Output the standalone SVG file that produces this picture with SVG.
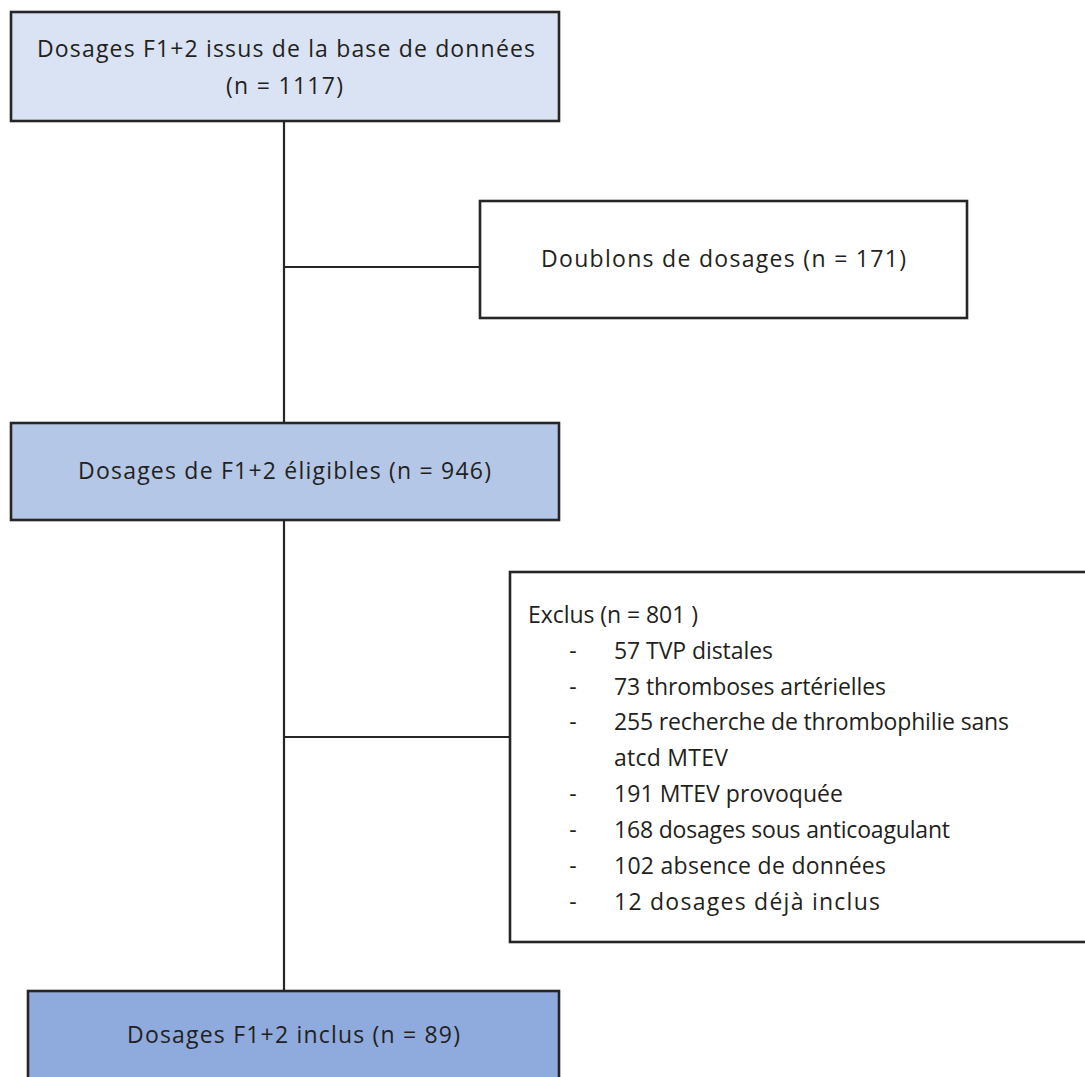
<svg xmlns="http://www.w3.org/2000/svg" width="1085" height="1077" viewBox="0 0 1085 1077">
<style>
.box{stroke:#262626;stroke-width:2.6}
.conn{stroke:#262626;stroke-width:2.2;fill:none}
text{font-family:"Open Sans","Noto Sans","Liberation Sans",sans-serif;font-size:23px;fill:#231f20}
</style>
<rect x="0" y="0" width="1085" height="1077" fill="#ffffff"/>
<g id="connectors">
<line class="conn" x1="284" y1="121" x2="284" y2="423"/>
<line class="conn" x1="284" y1="267" x2="480" y2="267"/>
<line class="conn" x1="284" y1="520" x2="284" y2="991"/>
<line class="conn" x1="284" y1="737" x2="510" y2="737"/>
</g>
<g id="node-base">
<rect class="box" x="11" y="12" width="548" height="109" fill="#dae3f3"/>
<text x="37" y="57" textLength="498">Dosages F1+2 issus de la base de données</text>
<text x="226" y="94" textLength="117">(n = 1117)</text>
</g>
<g id="node-doublons">
<rect class="box" x="480" y="201" width="487" height="117" fill="#ffffff"/>
<text x="541" y="267" textLength="365">Doublons de dosages (n = 171)</text>
</g>
<g id="node-eligibles">
<rect class="box" x="11" y="423" width="548" height="97" fill="#b4c7e7"/>
<text x="78" y="479" textLength="413">Dosages de F1+2 éligibles (n = 946)</text>
</g>
<g id="node-exclus">
<rect class="box" x="510" y="572" width="590" height="370" fill="#ffffff"/>
<text x="528" y="622.7" textLength="170">Exclus (n = 801 )</text>
<g text-anchor="middle">
<text x="573" y="658.6">-</text>
<text x="573" y="694.5">-</text>
<text x="573" y="730.4">-</text>
<text x="573" y="802.2">-</text>
<text x="573" y="838.1">-</text>
<text x="573" y="874">-</text>
<text x="573" y="909.9">-</text>
</g>
<text x="614" y="658.6" textLength="159">57 TVP distales</text>
<text x="614" y="694.5" textLength="272">73 thromboses artérielles</text>
<text x="614" y="730.4" textLength="395">255 recherche de thrombophilie sans</text>
<text x="614" y="766.3" textLength="114">atcd MTEV</text>
<text x="614" y="802.2" textLength="229">191 MTEV provoquée</text>
<text x="614" y="838.1" textLength="336">168 dosages sous anticoagulant</text>
<text x="614" y="874" textLength="272">102 absence de données</text>
<text x="614" y="909.9" textLength="266">12 dosages déjà inclus</text>
</g>
<g id="node-inclus">
<rect class="box" x="28" y="991" width="531" height="100" fill="#8faadc"/>
<text x="127" y="1043" textLength="333">Dosages F1+2 inclus (n = 89)</text>
</g>
</svg>
